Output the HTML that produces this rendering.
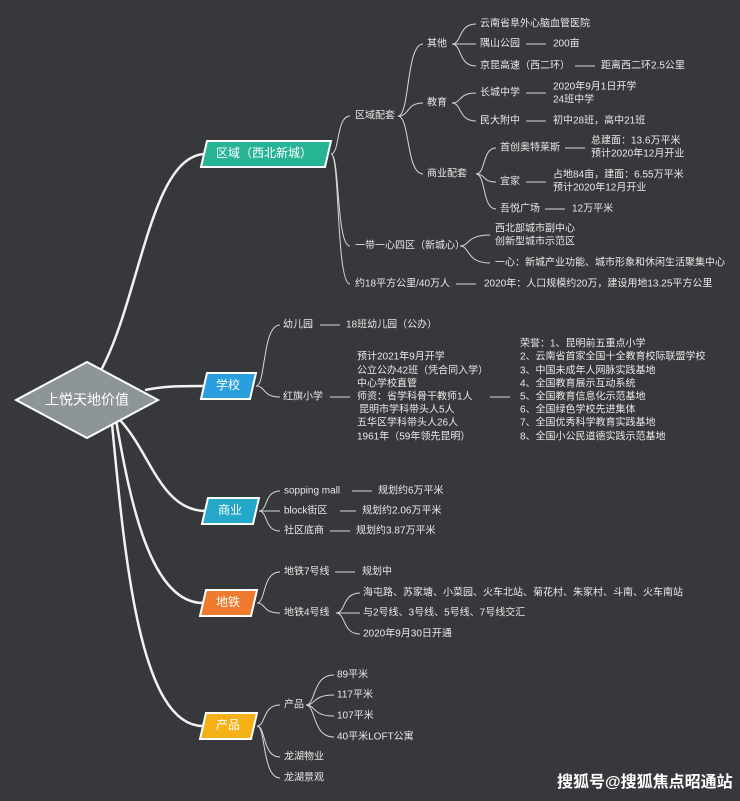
<!DOCTYPE html>
<html><head><meta charset="utf-8"><style>
html,body{margin:0;padding:0;background:#36383b;}
svg{display:block}
text{font-family:"Liberation Sans","Noto Sans CJK SC",sans-serif;font-size:10px;fill:#e8e8e8;dominant-baseline:middle}
.c{fill:none;stroke:#d8d8d8;stroke-width:1}
.m{fill:none;stroke:#f2f2f2;stroke-width:2.5}
.n{stroke:#fff;stroke-width:2}
.t{font-size:12px;fill:#fff;text-anchor:middle}
</style></head><body>
<svg width="740" height="801" viewBox="0 0 740 801" xmlns="http://www.w3.org/2000/svg">
<rect width="740" height="801" fill="#36383b"/>
<!-- main curves -->
<path class="m" d="M100 372 C140 300,150 156,205 154"/>
<path class="m" d="M145 390 C165 386,180 386,204 386"/>
<path class="m" d="M118 418 C150 450,160 511,206 511"/>
<path class="m" d="M116 420 C130 500,150 603,203 603"/>
<path class="m" d="M112 424 C125 560,140 726,203 726"/>
<!-- diamond -->
<polygon points="16,400 87,362 158,400 87,438" fill="#8e9597" stroke="#fff" stroke-width="2"/>
<text x="87" y="401" class="t" style="font-size:14px">上悦天地价值</text>
<!-- nodes -->
<polygon class="n" points="207,141 331,141 325,167 201,167" fill="#27b494"/>
<text x="264" y="154" class="t">区域（西北新城）</text>
<polygon class="n" points="207,373 256,373 250,399 201,399" fill="#2a9fe0"/>
<text x="228" y="386" class="t">学校</text>
<polygon class="n" points="208,498 259,498 253,524 202,524" fill="#24a7c9"/>
<text x="230" y="511" class="t">商业</text>
<polygon class="n" points="206,590 257,590 251,616 200,616" fill="#ef7a2e"/>
<text x="228" y="603" class="t">地铁</text>
<polygon class="n" points="206,713 257,713 251,739 200,739" fill="#f5b116"/>
<text x="228" y="726" class="t">产品</text>

<!-- region connectors -->
<g class="c">
<path d="M331 154 C340 154,336 116,350 116"/>
<path d="M331 154 C340 154,336 246,350 246"/>
<path d="M331 154 C340 154,336 284,350 284"/>
<path d="M398 116 C410 116,406 44,423 44"/>
<path d="M398 116 C410 116,406 103,423 103"/>
<path d="M398 116 C410 116,406 174,423 174"/>
<path d="M452 44 C462 44,458 24,476 24"/>
<path d="M452 44 L476 44"/>
<path d="M452 44 C462 44,458 66,476 66"/>
<path d="M452 103 C462 103,458 93,476 93"/>
<path d="M452 103 C462 103,458 121,476 121"/>
<path d="M476 174 C486 174,482 148,496 148"/>
<path d="M476 174 C486 174,482 182,496 182"/>
<path d="M476 174 C486 174,482 209,496 209"/>
<path d="M460 246 C470 246,466 235,490 235"/>
<path d="M460 246 C470 246,466 263,490 263"/>
<line x1="526" y1="44" x2="546" y2="44"/>
<line x1="575" y1="66" x2="595" y2="66"/>
<line x1="526" y1="93" x2="546" y2="93"/>
<line x1="526" y1="121" x2="546" y2="121"/>
<line x1="565" y1="148" x2="585" y2="148"/>
<line x1="526" y1="182" x2="546" y2="182"/>
<line x1="545" y1="209" x2="565" y2="209"/>
<line x1="456" y1="284" x2="476" y2="284"/>
<!-- school -->
<path d="M256 386 C266 386,262 325,280 325"/>
<path d="M256 386 C266 386,262 397,280 397"/>
<line x1="320" y1="325" x2="340" y2="325"/>
<line x1="330" y1="397" x2="350" y2="397"/>
<line x1="490" y1="397" x2="510" y2="397"/>
<!-- commerce -->
<path d="M259 511 C268 511,264 491,280 491"/>
<path d="M259 511 L280 511"/>
<path d="M259 511 C268 511,264 531,280 531"/>
<line x1="352" y1="491" x2="372" y2="491"/>
<line x1="340" y1="511" x2="356" y2="511"/>
<line x1="330" y1="531" x2="350" y2="531"/>
<!-- metro -->
<path d="M257 603 C266 603,262 572,280 572"/>
<path d="M257 603 C266 603,262 613,280 613"/>
<line x1="335" y1="572" x2="355" y2="572"/>
<path d="M336 613 C346 613,342 593,360 593"/>
<path d="M336 613 L360 613"/>
<path d="M336 613 C346 613,342 634,360 634"/>
<!-- product -->
<path d="M257 726 C266 726,262 705,280 705"/>
<path d="M257 726 C266 726,262 757,280 757"/>
<path d="M257 726 C266 726,262 778,280 778"/>
<path d="M306 705 C316 705,312 675,334 675"/>
<path d="M306 705 C316 705,312 695,334 695"/>
<path d="M306 705 C316 705,312 716,334 716"/>
<path d="M306 705 C316 705,312 737,334 737"/>
</g>

<!-- region text -->
<text x="355" y="116">区域配套</text>
<text x="427" y="44">其他</text>
<text x="427" y="103">教育</text>
<text x="427" y="174">商业配套</text>
<text x="480" y="24">云南省阜外心脑血管医院</text>
<text x="480" y="44">隅山公园</text><text x="553" y="44">200亩</text>
<text x="480" y="66">京昆高速（西二环）</text><text x="601" y="66">距离西二环2.5公里</text>
<text x="480" y="93">长城中学</text><text x="553" y="87">2020年9月1日开学</text><text x="553" y="100">24班中学</text>
<text x="480" y="121">民大附中</text><text x="553" y="121">初中28班，高中21班</text>
<text x="500" y="148">首创奥特莱斯</text><text x="591" y="141">总建面：13.6万平米</text><text x="591" y="154">预计2020年12月开业</text>
<text x="500" y="182">宜家</text><text x="553" y="175">占地84亩，建面：6.55万平米</text><text x="553" y="188">预计2020年12月开业</text>
<text x="500" y="209">吾悦广场</text><text x="572" y="209">12万平米</text>
<text x="355" y="246">一带一心四区（新城心）</text>
<text x="495" y="229">西北部城市副中心</text><text x="495" y="242">创新型城市示范区</text>
<text x="495" y="263">一心：新城产业功能、城市形象和休闲生活聚集中心</text>
<text x="355" y="284">约18平方公里/40万人</text>
<text x="484" y="284">2020年：人口规模约20万，建设用地13.25平方公里</text>

<!-- school text -->
<text x="283" y="325">幼儿园</text><text x="346" y="325">18班幼儿园（公办）</text>
<text x="283" y="397">红旗小学</text>
<text x="357" y="357">预计2021年9月开学</text>
<text x="357" y="371">公立公办42班（凭合同入学）</text>
<text x="357" y="384">中心学校直管</text>
<text x="357" y="397">师资：省学科骨干教师1人</text>
<text x="359" y="410">昆明市学科带头人5人</text>
<text x="357" y="423">五华区学科带头人26人</text>
<text x="357" y="437">1961年（59年领先昆明）</text>
<text x="520" y="344">荣誉：1、昆明前五重点小学</text>
<text x="520" y="357">2、云南省首家全国十全教育校际联盟学校</text>
<text x="520" y="371">3、中国未成年人网脉实践基地</text>
<text x="520" y="384">4、全国教育展示互动系统</text>
<text x="520" y="397">5、全国教育信息化示范基地</text>
<text x="520" y="410">6、全国绿色学校先进集体</text>
<text x="520" y="423">7、全国优秀科学教育实践基地</text>
<text x="520" y="437">8、全国小公民道德实践示范基地</text>

<!-- commerce text -->
<text x="284" y="491">sopping mall</text><text x="378" y="491">规划约6万平米</text>
<text x="284" y="511">block街区</text><text x="362" y="511">规划约2.06万平米</text>
<text x="284" y="531">社区底商</text><text x="356" y="531">规划约3.87万平米</text>

<!-- metro text -->
<text x="284" y="572">地铁7号线</text><text x="362" y="572">规划中</text>
<text x="284" y="613">地铁4号线</text>
<text x="363" y="593">海屯路、苏家塘、小菜园、火车北站、菊花村、朱家村、斗南、火车南站</text>
<text x="363" y="613">与2号线、3号线、5号线、7号线交汇</text>
<text x="363" y="634">2020年9月30日开通</text>

<!-- product text -->
<text x="284" y="705">产品</text>
<text x="337" y="675">89平米</text>
<text x="337" y="695">117平米</text>
<text x="337" y="716">107平米</text>
<text x="337" y="737">40平米LOFT公寓</text>
<text x="284" y="757">龙湖物业</text>
<text x="284" y="778">龙湖景观</text>

<text x="557" y="783" style="font-size:16px;font-weight:bold;fill:#fff">搜狐号@搜狐焦点昭通站</text>
</svg>
</body></html>
